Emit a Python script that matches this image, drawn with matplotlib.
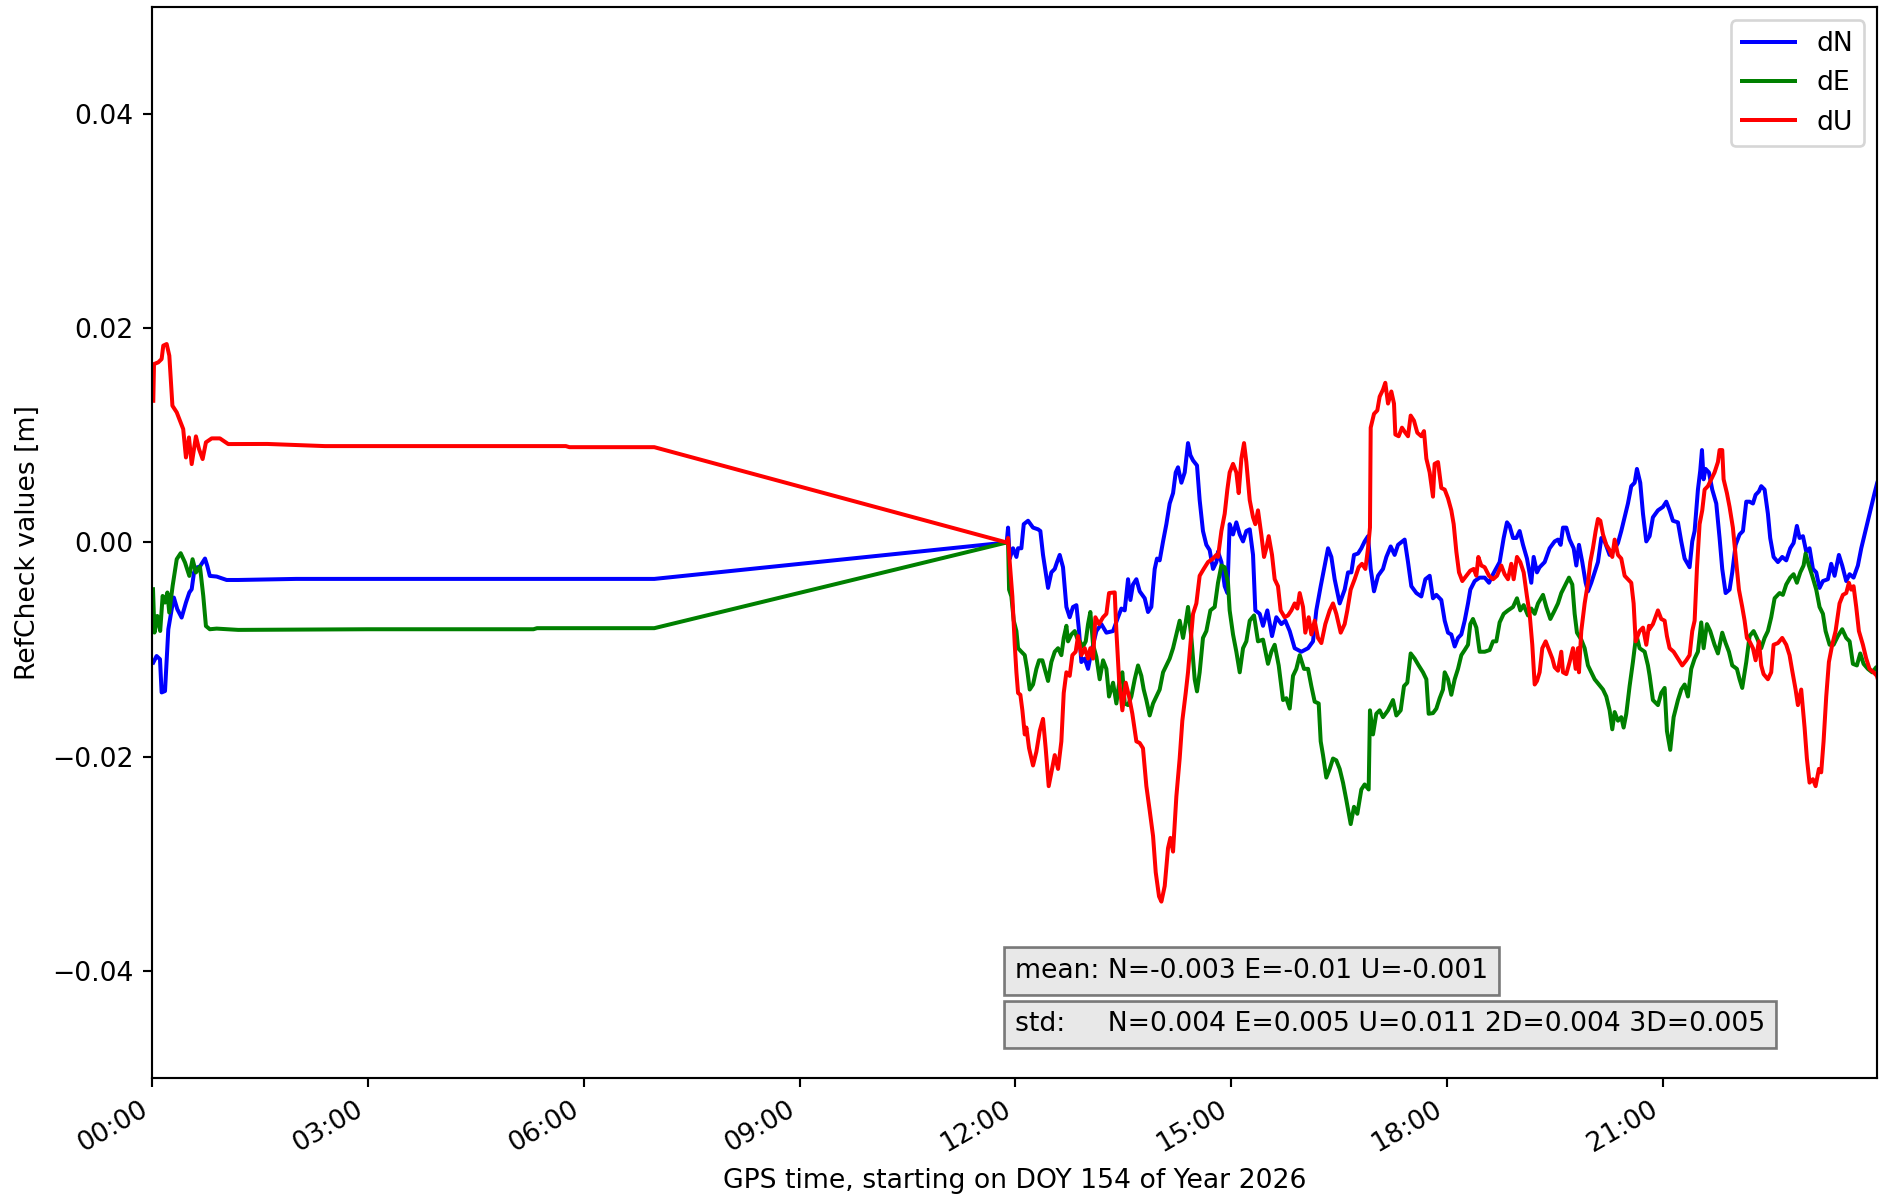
import matplotlib
matplotlib.use('Agg')
import matplotlib.pyplot as plt
import matplotlib.dates as mdates
from datetime import datetime, timedelta

# time in hours since start of DOY 154 / 2026, values in mm
start = datetime(2026, 6, 3)

n_hours = [0.014, 0.06, 0.107, 0.13, 0.177, 0.223, 0.27, 0.30, 0.348, 0.408, 0.468, 0.515,
           0.548, 0.58, 0.617, 0.663, 0.733, 0.765, 0.80, 0.895, 1.034, 1.195, 2.0, 4.0, 6.98,
           11.88,
           11.899, 11.922, 11.968, 12.015, 12.038, 12.084, 12.117, 12.177, 12.246, 12.316, 12.348,
           12.385, 12.455, 12.501, 12.548, 12.58, 12.617, 12.663, 12.71, 12.756, 12.802, 12.849,
           12.886, 12.918, 12.965, 13.011, 13.057, 13.127, 13.196, 13.266, 13.359, 13.428, 13.474,
           13.521, 13.567, 13.600, 13.636, 13.683, 13.729, 13.799, 13.845, 13.891, 13.938, 13.97,
           14.007, 14.054, 14.1, 14.146, 14.193, 14.23, 14.262, 14.309, 14.355, 14.401, 14.434,
           14.471, 14.526, 14.563, 14.609, 14.656, 14.702, 14.749, 14.795,
           14.818, 14.865, 14.911, 14.948, 14.98, 15.027, 15.073, 15.12, 15.166, 15.212, 15.259,
           15.305, 15.337, 15.398, 15.444, 15.504, 15.569, 15.629, 15.699, 15.754, 15.815, 15.884,
           15.977, 16.07, 16.139, 16.185, 16.246, 16.301, 16.348, 16.394, 16.44, 16.51, 16.579,
           16.626, 16.672, 16.709, 16.765, 16.811, 16.857, 16.904, 16.941, 16.987, 17.043, 17.112,
           17.159, 17.219, 17.274, 17.321, 17.413, 17.46, 17.506, 17.576, 17.645, 17.701, 17.761,
           17.807, 17.854, 17.923, 17.97, 18.016, 18.062, 18.109, 18.155, 18.201, 18.248, 18.294,
           18.326, 18.387, 18.456, 18.526, 18.586, 18.642, 18.734, 18.79, 18.836, 18.873, 18.92,
           18.966, 19.012, 19.059, 19.114, 19.174, 19.207, 19.253, 19.29, 19.36, 19.429, 19.499,
           19.545, 19.582, 19.615, 19.661, 19.707, 19.763, 19.8, 19.837, 19.883, 19.93, 19.962,
           20.008, 20.055, 20.101, 20.148, 20.194, 20.263, 20.31, 20.379, 20.425, 20.472, 20.518,
           20.564, 20.611, 20.643, 20.689, 20.727, 20.773, 20.819,
           20.865, 20.935, 21.004, 21.051, 21.097, 21.143, 21.213, 21.259, 21.306, 21.375, 21.412,
           21.445, 21.491, 21.523, 21.547, 21.57, 21.597, 21.644, 21.69, 21.746, 21.792, 21.829,
           21.876, 21.931, 21.968, 22.015, 22.07, 22.117, 22.163, 22.209, 22.256, 22.293, 22.339,
           22.371, 22.418, 22.464, 22.496, 22.543, 22.603, 22.663, 22.719, 22.775, 22.821, 22.867,
           22.904, 22.951, 22.997, 23.043, 23.09, 23.136, 23.182, 23.229, 23.298, 23.344, 23.391,
           23.451, 23.497, 23.553, 23.6, 23.655, 23.715, 23.762, 23.808, 23.855, 23.901, 23.947,
           23.984, 24.0]
n_mm = [-11.21, -10.6, -10.9, -14.0, -13.87, -8.1, -6.23, -5.14, -6.23, -7.01, -5.61, -4.67,
        -4.36, -2.8, -2.34, -2.24, -1.5, -2.19, -3.12, -3.18, -3.5, -3.5, -3.4, -3.4, -3.4,
        0.0,
        1.39, -1.50, -0.54, -1.35, -0.54, -0.54, 1.71, 2.03, 1.39, 1.23, 1.07,
        -1.16, -4.24, -2.79, -2.47, -1.83, -1.16, -2.31, -6.02, -6.98, -6.02, -5.85,
        -8.27, -11.16, -10.84, -11.80, -10.20, -8.27, -7.62, -8.42, -8.27, -6.98, -6.17,
        -6.34, -3.43, -5.37, -3.92, -3.43, -4.56, -5.21, -6.49, -6.02, -2.47, -1.50,
        -1.67, 0.10, 1.71, 3.64, 4.61, 6.54, 7.02, 5.58, 6.54, 9.28, 8.15,
        7.66, 7.19, 3.96, 1.07, -0.22, -0.71, -2.47, -1.83,
        -0.86, -1.83, -4.08, -4.72, 1.71, 0.75, 1.88, 0.75, 0.10, 1.07, 1.23,
        -1.16, -6.34, -6.66, -7.78, -6.34, -8.74, -6.98, -7.62, -7.30, -8.27, -9.87,
        -10.20, -9.87, -9.23, -6.34, -4.08, -2.15, -0.54, -1.35, -3.43, -5.69, -4.40,
        -2.79, -2.79, -1.16, -1.03, -0.54, 0.10, 0.59, -2.47, -4.56, -3.11, -2.47,
        -1.35, -0.37, -1.16, -0.22, 0.27, -1.83, -4.08, -4.72, -5.04, -3.43, -3.11,
        -5.21, -4.89, -5.37, -7.30, -8.42, -8.59, -9.71, -8.91, -8.59, -7.30, -5.69,
        -4.40, -3.60, -3.28, -3.28, -3.76, -2.96, -1.83, 0.42, 1.88, 1.55, 0.42,
        0.42, 1.07, -0.22, -1.50, -3.76, -1.35, -2.79, -2.31, -1.83, -0.54, 0.10,
        0.27, -0.22, 1.39, 1.39, 0.27, -0.54, -2.15, -0.22, -1.83, -3.76, -4.56,
        -3.76, -2.79, -1.83, 0.42, 0.10, -1.16, -0.86, -0.05, 1.07, 2.35, 3.64,
        5.26, 5.58, 6.87, 5.58, 2.68, 0.10, 0.59,
        2.35, 3.00, 3.32, 3.81, 3.00, 2.03, 1.88, 0.10, -1.50, -2.31, 0.10,
        1.07, 4.94, 6.70, 8.63, 5.90, 6.87, 6.54, 4.94, 3.64, 0.42, -2.47,
        -4.72, -4.40, -2.79, -0.22, 0.75, 1.07, 3.81, 3.81, 3.64, 4.45, 4.77,
        5.26, 4.94, 2.68, 0.42, -1.35, -1.83, -1.35, -1.67, -0.54, -0.05, 1.55,
        0.42, 0.59, -0.86, -0.54, -2.47, -2.79, -4.24, -3.60, -3.43, -1.99, -3.11,
        -1.16, -2.15, -3.60, -2.96, -3.28, -2.15, -0.54, 0.75, 2.03, 3.32, 4.61,
        5.58, 5.87]

e_hours = [0.01, 0.03, 0.07, 0.11, 0.144, 0.177, 0.21, 0.236, 0.283, 0.34, 0.395, 0.455,
           0.515, 0.56, 0.607, 0.663, 0.709, 0.746, 0.80, 0.895, 1.195, 3.0, 5.3, 5.35, 6.98,
           11.88,
           11.899, 11.913, 11.945, 11.978, 12.015, 12.038, 12.084, 12.131, 12.163, 12.2, 12.246,
           12.293, 12.33, 12.376, 12.409, 12.455, 12.501, 12.548, 12.594, 12.64, 12.673, 12.71,
           12.733, 12.779, 12.826, 12.858, 12.895, 12.941, 12.979, 13.011, 13.043, 13.081, 13.127,
           13.173, 13.22, 13.266, 13.303, 13.359, 13.405, 13.451, 13.488, 13.521, 13.567, 13.613,
           13.66, 13.706, 13.752, 13.785, 13.822, 13.868, 13.915, 13.961, 14.007, 14.054, 14.1,
           14.146, 14.193, 14.239, 14.285, 14.332, 14.369, 14.401, 14.448, 14.494, 14.526, 14.563,
           14.609, 14.656, 14.712, 14.772,
           14.818, 14.865, 14.911, 14.957, 14.98, 15.027, 15.073, 15.12, 15.166, 15.212, 15.259,
           15.319, 15.374, 15.444, 15.513, 15.56, 15.606, 15.662, 15.722, 15.768, 15.815, 15.861,
           15.907, 15.954, 16.014, 16.07, 16.116, 16.162, 16.218, 16.246, 16.278, 16.324, 16.371,
           16.417, 16.463, 16.51, 16.556, 16.602, 16.663, 16.709, 16.755, 16.811, 16.857, 16.913,
           16.931, 16.973, 17.019, 17.066, 17.112, 17.182, 17.251, 17.298, 17.358, 17.404, 17.45,
           17.497, 17.552, 17.608, 17.668, 17.715, 17.747, 17.807,
           17.854, 17.9, 17.946, 17.97, 18.016, 18.062, 18.109, 18.155, 18.201, 18.248, 18.294,
           18.326, 18.363, 18.41, 18.456, 18.526, 18.595, 18.642, 18.688, 18.734, 18.79, 18.85,
           18.92, 18.975, 19.021, 19.068, 19.128, 19.174, 19.221, 19.267, 19.337, 19.383, 19.439,
           19.499, 19.545, 19.591, 19.638, 19.698, 19.744, 19.777, 19.809, 19.869, 19.916, 19.962,
           20.008, 20.055, 20.115, 20.171, 20.217, 20.263, 20.3, 20.333, 20.379, 20.425, 20.458,
           20.495, 20.541, 20.587, 20.634, 20.68, 20.75, 20.796, 20.819,
           20.865, 20.935, 20.981, 21.028, 21.06, 21.106, 21.153, 21.213, 21.259, 21.306, 21.352,
           21.398, 21.445, 21.491, 21.537, 21.57, 21.616, 21.662, 21.722, 21.769, 21.829, 21.876,
           21.922, 21.968, 22.033, 22.07, 22.107, 22.163, 22.209, 22.265, 22.311, 22.371, 22.418,
           22.464, 22.51, 22.557, 22.626, 22.672, 22.719, 22.774, 22.821, 22.867, 22.914, 22.96,
           22.988, 23.034, 23.08, 23.136, 23.182, 23.229, 23.266, 23.322, 23.377, 23.437, 23.497,
           23.553, 23.6, 23.646, 23.701, 23.748, 23.794, 23.854, 23.914, 23.97, 24.0]
e_mm = [-4.36, -8.41, -6.86, -8.26, -4.99, -5.61, -4.67, -6.54, -4.05, -1.56, -1.0, -1.87,
        -3.12, -1.56, -2.8, -2.24, -4.99, -7.8, -8.1, -8.04, -8.16, -8.1, -8.1, -8.0, -8.0,
        0.0,
        -0.05, -4.40, -5.04, -7.30, -8.27, -9.87, -10.20, -10.52, -11.80, -13.73, -13.26,
        -11.80, -11.00, -11.00, -11.80, -12.93, -11.16, -10.20, -9.87, -10.52, -8.91, -7.78,
        -9.23, -8.59, -8.27, -8.91, -9.23, -9.71, -9.23, -7.62, -6.49, -9.55, -10.68,
        -12.77, -11.00, -11.80, -14.38, -13.09, -15.03, -12.77, -12.12, -15.03, -15.18, -14.38,
        -12.77, -11.48, -12.45, -13.73, -14.71, -16.15, -15.03, -14.38, -13.73, -12.12, -11.48,
        -10.84, -9.87, -8.59, -7.30, -8.91, -7.46, -6.02, -8.91, -12.77, -13.90, -12.12,
        -8.91, -8.27, -6.34, -6.02,
        -3.76, -2.15, -2.31, -3.76, -6.34, -8.59, -10.20, -12.12, -9.87, -9.23, -7.30,
        -6.81, -9.23, -9.07, -11.33, -10.20, -9.55, -11.48, -14.71, -14.54, -15.51, -12.45,
        -11.80, -10.52, -11.80, -11.80, -13.41, -14.86, -15.03, -18.57, -19.85, -21.95, -21.14,
        -20.17, -20.34, -21.14, -22.42, -24.03, -26.29, -24.68, -25.33, -23.06, -22.59, -23.06,
        -15.67, -17.92, -15.99, -15.67, -16.31, -15.67, -14.71, -16.15, -15.67, -13.41, -13.09,
        -10.36, -10.84, -11.48, -12.12, -12.77, -15.99, -15.93,
        -15.51, -14.54, -13.73, -12.12, -12.77, -14.22, -12.77, -11.80, -10.52, -10.04, -9.55,
        -7.62, -7.14, -7.95, -10.20, -10.20, -10.04, -9.23, -9.23, -7.46, -6.66, -6.34,
        -6.02, -5.21, -6.34, -5.85, -6.81, -6.17, -6.66, -5.69, -4.89, -6.02, -7.14,
        -6.34, -5.69, -4.72, -4.08, -3.28, -3.92, -6.66, -8.42, -9.07, -9.87, -11.48,
        -12.12, -12.77, -13.26, -13.73, -14.38, -15.67, -17.44, -15.83, -16.64, -16.31, -17.28,
        -15.99, -13.41, -11.16, -8.59, -9.87, -10.20, -11.48, -12.42,
        -14.71, -15.18, -14.05, -13.58, -17.60, -19.36, -16.31, -14.71, -13.73, -13.26, -14.38,
        -11.80, -10.84, -10.20, -7.46, -9.87, -7.62, -8.27, -9.55, -10.36, -8.42, -9.39,
        -10.20, -11.48, -11.80, -12.77, -13.58, -11.16, -8.74, -8.27, -8.91, -9.87, -8.91,
        -8.27, -6.98, -5.21, -4.72, -4.89, -3.92, -3.28, -2.96, -3.76, -2.79, -2.15,
        -1.03, -2.15, -3.11, -4.40, -6.02, -6.66, -8.27, -9.55, -9.55, -8.74, -8.10,
        -8.91, -9.23, -11.33, -11.48, -10.36, -11.33, -11.80, -12.12, -11.65, -12.22]

u_hours = [0.014, 0.024, 0.083, 0.13, 0.153, 0.20, 0.237, 0.28, 0.34, 0.385, 0.43, 0.468,
           0.51, 0.548, 0.607, 0.65, 0.70, 0.746, 0.826, 0.94, 1.056, 1.195, 1.6, 2.0, 2.4,
           4.0, 5.75, 5.8, 6.98,
           11.88,
           11.899, 11.922, 11.959, 11.992, 12.015, 12.038, 12.070, 12.098, 12.131, 12.154, 12.191,
           12.246, 12.293, 12.339, 12.385, 12.422, 12.464, 12.501, 12.548, 12.594, 12.64, 12.673,
           12.71, 12.756, 12.793, 12.839, 12.872, 12.918, 12.965, 13.011, 13.043, 13.081, 13.113,
           13.164, 13.22, 13.266, 13.303, 13.382, 13.405, 13.442, 13.488, 13.535, 13.581, 13.627,
           13.683, 13.729, 13.775, 13.822, 13.868, 13.915, 13.952, 13.998, 14.031, 14.077, 14.123,
           14.156, 14.193, 14.239, 14.285, 14.322, 14.369, 14.401, 14.434, 14.471, 14.517, 14.563,
           14.619, 14.679, 14.749, 14.795,
           14.818, 14.865, 14.911, 14.948, 14.98, 15.027, 15.073, 15.106, 15.143, 15.18, 15.212,
           15.259, 15.305, 15.337, 15.374, 15.42, 15.458, 15.49, 15.523, 15.569, 15.606, 15.652,
           15.689, 15.745, 15.791, 15.838, 15.884, 15.921, 15.954, 16.0, 16.032, 16.079, 16.116,
           16.162, 16.208, 16.255, 16.31, 16.371, 16.417, 16.463, 16.524, 16.579, 16.616, 16.663,
           16.718, 16.774, 16.82, 16.867, 16.904, 16.931, 16.941, 16.987, 17.033, 17.066, 17.112,
           17.144, 17.182, 17.228, 17.265, 17.284, 17.33, 17.376, 17.423, 17.46, 17.497, 17.543,
           17.589, 17.645, 17.682, 17.715, 17.761, 17.807,
           17.83, 17.877, 17.923, 17.97, 18.016, 18.062, 18.095, 18.132, 18.169, 18.215, 18.271,
           18.326, 18.373, 18.41, 18.438, 18.479, 18.526, 18.586, 18.642, 18.697, 18.757, 18.803,
           18.85, 18.896, 18.929, 18.975, 19.021, 19.068, 19.114, 19.151, 19.188, 19.221, 19.253,
           19.29, 19.327, 19.374, 19.42, 19.467, 19.499, 19.545, 19.591, 19.615, 19.661, 19.707,
           19.754, 19.791, 19.823, 19.837, 19.869, 19.916, 19.962, 19.994, 20.031, 20.069, 20.101,
           20.134, 20.171, 20.217, 20.263, 20.3, 20.333, 20.379, 20.425, 20.472, 20.518, 20.564,
           20.597, 20.625, 20.68, 20.727, 20.773, 20.81, 20.819,
           20.865, 20.935, 20.981, 21.028, 21.06, 21.097, 21.153, 21.213, 21.273, 21.329, 21.375,
           21.412, 21.445, 21.477, 21.514, 21.551, 21.584, 21.63, 21.676, 21.722, 21.769, 21.792,
           21.829, 21.848, 21.894, 21.931, 21.977, 22.024, 22.061, 22.107, 22.14, 22.172, 22.209,
           22.256, 22.293, 22.339, 22.371, 22.404, 22.464, 22.51, 22.543, 22.603, 22.663, 22.719,
           22.765, 22.802, 22.849, 22.881, 22.927, 22.974, 23.006, 23.043, 23.09, 23.127, 23.173,
           23.205, 23.238, 23.275, 23.312, 23.358, 23.405, 23.46, 23.507, 23.553, 23.59, 23.622,
           23.655, 23.692, 23.729, 23.785, 23.831, 23.877, 23.933, 23.979, 24.0]
u_mm = [13.23, 16.66, 16.82, 17.13, 18.38, 18.53, 17.44, 12.77, 12.15, 11.37, 10.59, 7.94,
        9.81, 7.32, 9.91, 8.72, 7.79, 9.35, 9.72, 9.72, 9.19, 9.19, 9.2, 9.1, 9.0,
        9.0, 9.0, 8.9, 8.9,
        0.0,
        0.42, -1.83, -5.04, -9.55, -12.12, -14.05, -14.22, -15.67, -17.92, -17.28, -19.21,
        -20.82, -19.53, -17.60, -16.47, -19.21, -22.75, -21.46, -19.85, -21.14, -18.57, -14.05,
        -12.12, -12.45, -10.52, -10.20, -8.74, -10.52, -9.87, -10.84, -9.87, -10.84, -6.98,
        -7.62, -6.98, -6.66, -4.72, -4.66, -8.27, -12.77, -15.67, -13.09, -14.38, -15.99,
        -18.57, -18.72, -19.21, -22.75, -25.01, -27.41, -30.79, -33.04, -33.53, -32.08, -28.54,
        -27.58, -28.86, -23.71, -20.17, -16.64, -14.05, -12.12, -9.55, -6.66, -5.69, -3.11,
        -2.47, -1.83, -1.50, -1.16,
        -1.35, 1.07, 2.68, 4.94, 6.54, 7.34, 6.54, 4.61, 7.83, 9.28, 7.51,
        3.96, 2.35, 1.71, 3.00, 0.75, -1.35, -0.54, 0.59, -1.16, -3.43, -4.08,
        -6.34, -6.98, -6.81, -6.34, -5.69, -6.17, -4.72, -6.02, -8.42, -6.98, -8.59,
        -7.30, -8.91, -9.39, -7.62, -6.34, -5.69, -6.66, -8.42, -7.62, -6.34, -4.40,
        -3.43, -2.31, -1.99, -2.47, -0.54, 1.39, 10.72, 12.01, 12.33, 13.62, 14.27,
        14.91, 12.97, 14.10, 12.97, 10.08, 9.92, 10.72, 10.25, 9.92, 11.85, 11.37,
        10.25, 9.92, 10.40, 7.83, 6.54, 4.28,
        7.34, 7.51, 5.09, 4.94, 4.13, 3.00, 1.71, -0.86, -2.79, -3.60, -3.11,
        -2.63, -2.47, -3.11, -1.35, -2.15, -2.31, -3.11, -3.43, -3.11, -2.15, -2.96,
        -3.43, -1.99, -3.43, -1.35, -1.83, -2.79, -5.04, -6.66, -9.55, -13.26, -12.93,
        -12.12, -9.87, -9.23, -10.04, -10.84, -11.65, -11.97, -10.20, -12.12, -12.29, -11.16,
        -9.87, -11.80, -9.87, -12.12, -8.27, -5.69, -3.76, -1.83, -0.54, 1.07, 2.20,
        2.03, 0.75, -0.22, -0.71, -1.35, 0.27, -1.16, -1.50, -3.11, -3.43, -3.76,
        -5.69, -9.23, -8.27, -7.95, -9.55, -7.78, -8.08,
        -7.62, -6.34, -7.14, -7.30, -8.74, -9.87, -10.20, -10.84, -11.48, -11.00, -10.52,
        -8.27, -7.30, -2.47, 1.71, 3.00, 4.94, 5.26, 5.90, 6.54, 7.51, 8.63,
        8.63, 5.90, 4.61, 3.32, 1.39, -1.83, -4.40, -6.02, -7.30, -8.91, -9.23,
        -9.87, -11.00, -9.23, -11.48, -12.29, -12.77, -12.12, -9.55, -9.39, -8.91, -9.55,
        -10.52, -11.97, -13.73, -15.18, -13.73, -17.28, -20.17, -22.42, -22.10, -22.75, -21.14,
        -21.46, -18.57, -14.38, -11.16, -9.55, -8.27, -5.69, -4.89, -4.72, -3.76, -4.40,
        -4.08, -6.02, -8.27, -9.55, -10.84, -11.80, -12.12, -12.45, -12.94]

mean_text = 'mean: N=-0.003 E=-0.01 U=-0.001'
std_text = 'std:     N=0.004 E=0.005 U=0.011 2D=0.004 3D=0.005'


def to_times(hours):
    return [start + timedelta(hours=h) for h in hours]


def to_m(mm):
    return [v / 1000.0 for v in mm]


fig = plt.figure(figsize=(1880 / 192, 1201 / 192), dpi=192)
ax = fig.add_axes([0.081, 0.1024, 0.9175, 0.8918])

ax.plot(to_times(n_hours), to_m(n_mm), color='blue', label='dN')
ax.plot(to_times(e_hours), to_m(e_mm), color='green', label='dE')
ax.plot(to_times(u_hours), to_m(u_mm), color='red', label='dU')

# data ends just before midnight, so no 00:00 tick on the right
ax.set_xlim(start, start + timedelta(hours=23, minutes=59))
ax.set_ylim(-0.05, 0.05)
ax.set_yticks([-0.04, -0.02, 0.0, 0.02, 0.04])
ax.xaxis.set_major_locator(mdates.HourLocator(byhour=range(0, 24, 3)))
ax.xaxis.set_major_formatter(mdates.DateFormatter('%H:%M'))
for lbl in ax.get_xticklabels():
    lbl.set_rotation(30)
    lbl.set_horizontalalignment('right')

ax.set_xlabel('GPS time, starting on DOY 154 of Year 2026')
ax.set_ylabel('RefCheck values [m]')
ax.legend(loc='upper right')

ax.text(0.5, 0.1, mean_text, transform=ax.transAxes, va='center',
        bbox=dict(facecolor='lightgray', alpha=0.5))
ax.text(0.5, 0.05, std_text, transform=ax.transAxes, va='center',
        bbox=dict(facecolor='lightgray', alpha=0.5))

fig.savefig('out.png', dpi=192)
